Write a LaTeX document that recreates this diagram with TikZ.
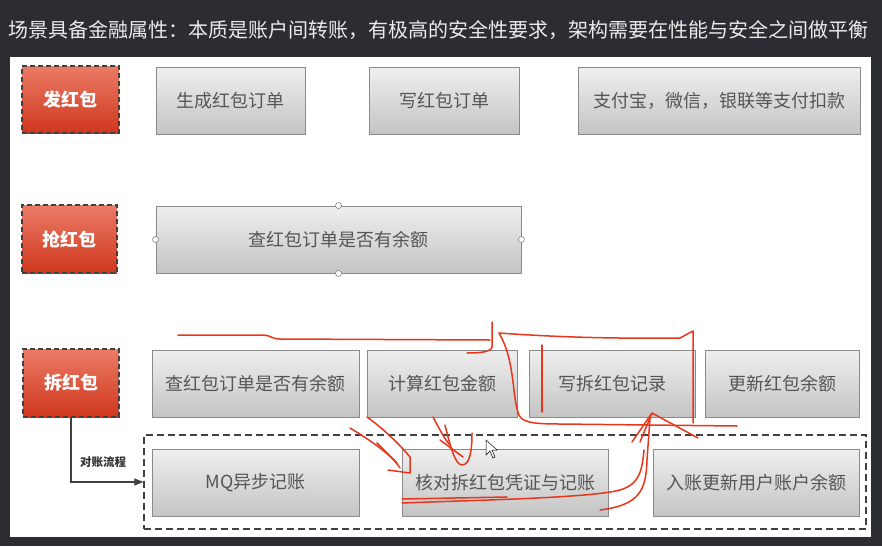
\documentclass[tikz,border=0pt]{standalone}
\usepackage{fontspec}
\setmainfont{Noto Sans CJK SC}
\usepackage{xcolor}
\usetikzlibrary{arrows.meta}
\definecolor{bgdark}{HTML}{2B2D33}
\definecolor{redtop}{HTML}{EB7B66}
\definecolor{redbot}{HTML}{CF371D}
\definecolor{graytop}{HTML}{EFEFEF}
\definecolor{graybot}{HTML}{C4C4C4}
\definecolor{grayline}{HTML}{8A8A8A}
\definecolor{graytext}{HTML}{555555}
\definecolor{pen}{HTML}{E8361C}

\begin{document}
\begin{tikzpicture}[x=1pt,y=-1pt,
  redbox/.style={draw=black!75,dash pattern=on 5pt off 3pt,line width=1.2pt,top color=redtop,bottom color=redbot,
    text=white,font=\fontsize{18}{20}\selectfont\bfseries,inner sep=0pt},
  graybox/.style={draw=grayline,line width=0.9pt,top color=graytop,bottom color=graybot,
    text=graytext,font=\fontsize{18}{20}\selectfont,inner sep=0pt,minimum height=67pt},
  handle/.style={circle,draw=black!55,fill=white,inner sep=0pt,minimum size=6pt,line width=0.5pt},
  scribble/.style={draw=pen,line width=1.5pt,line cap=round,line join=round}]
  \useasboundingbox (0,0) rectangle (882,546);
  \fill[bgdark] (0,0) rectangle (882,546);
  \fill[white] (10,57) rectangle (871,537);
  \node[anchor=west,text=white!92!black,font=\fontsize{20}{22}\selectfont,inner sep=0pt] (title) at (8,30)
    {场景具备金融属性：本质是账户间转账，有极高的安全性要求，架构需要在性能与安全之间做平衡};
  % 发红包
  \node[redbox,minimum width=97pt,minimum height=67pt] (fa) at (70.5,99.5) {发红包};
  \node[graybox,minimum width=149pt] (gen) at (230.5,100.5) {生成红包订单};
  \node[graybox,minimum width=150pt] (wrt) at (444,100.5) {写红包订单};
  \node[graybox,minimum width=282pt] (pay) at (719,100.5) {支付宝，微信，银联等支付扣款};
  % 抢红包
  \node[redbox,minimum width=95pt,minimum height=68pt] (qiang) at (69.5,239) {抢红包};
  \node[graybox,minimum width=365pt] (chk) at (338.5,239.5) {查红包订单是否有余额};
  \foreach \a in {north,south,east,west} \node[handle] at (chk.\a) {};
  % 拆红包
  \node[redbox,minimum width=96pt,minimum height=68pt] (chai) at (71,383) {拆红包};
  \node[graybox,minimum width=207pt] (chk2) at (255.5,383.5) {查红包订单是否有余额};
  \node[graybox,minimum width=150pt] (calc) at (442,383.5) {计算红包金额};
  \node[graybox,minimum width=166pt] (rec) at (612,383.5) {写拆红包记录};
  \node[graybox,minimum width=154pt] (upd) at (782,383.5) {更新红包余额};
  % 对账
  \node[draw=black!75,dash pattern=on 7pt off 4pt,line width=1.2pt,minimum width=722pt,minimum height=94pt,inner sep=0pt] (recon) at (505,482) {};
  \node[graybox,minimum width=207pt] (mq) at (255.5,482.5) {MQ异步记账};
  \node[graybox,minimum width=206pt] (vfy) at (505,482.5) {核对拆红包凭证与记账};
  \node[graybox,minimum width=206pt] (acc) at (756,482.5) {入账更新用户账户余额};
  \draw[black!75,line width=1.1pt,-{Triangle[length=9pt,width=7pt]}] (chai.south) |- (recon.west);
  \node[black!80,font=\fontsize{11.5}{12}\selectfont\bfseries,inner sep=0pt] (flow) at (103,462) {对账流程};
  % hand marks
  \draw[scribble] (178,335) -- (263,335) .. controls (270,335) and (272,339) .. (280,339) -- (490,340);
  \draw[scribble] (492,322) -- (492,347) .. controls (491,352) and (480,353) .. (467,353);
  \draw[scribble] (499,333) .. controls (540,336) and (600,339) .. (680,338) -- (693,331) -- (693,423);
  \draw[scribble] (499,333) .. controls (515,360) and (512,395) .. (518,412) .. controls (520,422) and (530,424) .. (560,424) -- (737,426);
  \draw[scribble] (542,345) -- (542,412);
  \draw[scribble] (632,442) -- (652,413) -- (698,438);
  \draw[scribble] (640,442) -- (652,413);
  \draw[scribble] (600,510) .. controls (640,505) and (646,490) .. (647,460) -- (650,418);
  \draw[scribble] (402,503) .. controls (480,500) and (590,498) .. (620,490) .. controls (640,484) and (642,470) .. (644,450);
  \draw[scribble] (402,499) -- (507,497);
  \draw[scribble] (367,417) .. controls (385,430) and (400,445) .. (410,457) -- (410,473) -- (388,470);
  \draw[scribble] (350,428) .. controls (370,440) and (392,455) .. (400,468);
  \draw[scribble] (377,443) -- (397,463);
  \draw[scribble] (433,417) .. controls (440,430) and (445,440) .. (450,445);
  \draw[scribble] (445,425) .. controls (450,445) and (455,465) .. (462,465) .. controls (470,465) and (472,450) .. (472,433);
  \draw[scribble] (440,440) -- (463,457);
  % cursor
  \draw[black,fill=white,line width=0.5pt] (486,440) -- (486,455) -- (490,451) -- (493,458) -- (495,457) -- (492,450) -- (497,450) -- cycle;
\end{tikzpicture}
\end{document}
